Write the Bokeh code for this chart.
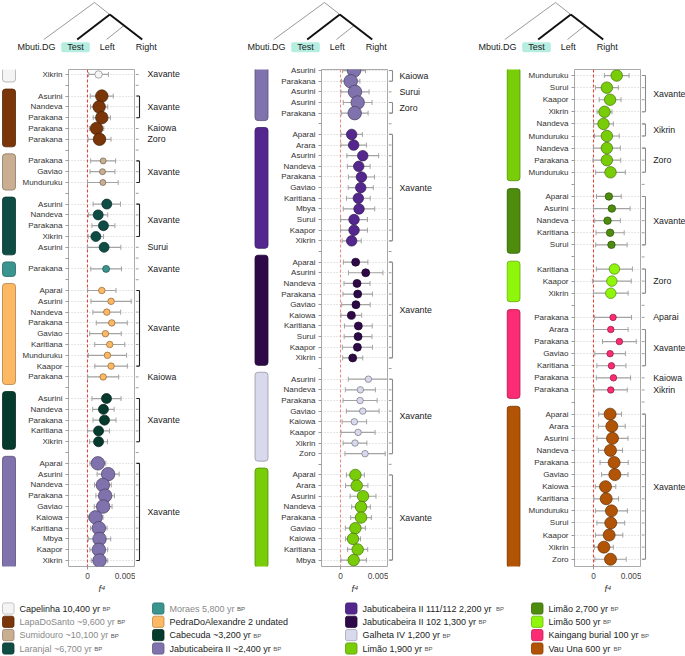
from bokeh.plotting import figure
from bokeh.layouts import row, column
from bokeh.models import Range1d, FixedTicker, ColumnDataSource, Whisker, TeeHead
from bokeh.embed import file_html
from bokeh.resources import INLINE
from bokeh.core.properties import value

FONT = "Liberation Sans"

# ---------------- groups / legend ----------------
group_names = ["Capelinha", "LapaDoSanto", "Sumidouro", "Laranjal", "Moraes", "PedraDoAlexandre",
               "Cabecuda", "JabuticabeiraII", "JabII_111_112", "JabII_102", "GalhetaIV",
               "Limao1900", "Limao2700", "Limao500", "Kaingang", "VauUna"]
group_colors = ["#f4f4f4", "#7a3608", "#c9ae92", "#0e4c44", "#3a958f", "#fdb863",
                "#063a2c", "#8072ac", "#54278f", "#2d0a47", "#d9d9ee",
                "#78cd08", "#4e8c0e", "#8ff50b", "#fb2c74", "#b25406"]
group_marker_px = [7.5, 12.5, 6, 10, 7, 6.5, 10, 13.5, 10.5, 8, 6.5, 11.5, 7.5, 10.5, 6.5, 12]
legend_names = ["Capelinha 10,400 yr", "LapaDoSanto ~9,600 yr", "Sumidouro ~10,100 yr",
                "Laranjal ~6,700 yr", "Moraes 5,800 yr", "PedraDoAlexandre 2 undated",
                "Cabecuda ~3,200 yr", "Jabuticabeira II ~2,400 yr",
                "Jabuticabeira II 111/112 2,200 yr", "Jabuticabeira II 102 1,300 yr",
                "Galheta IV 1,200 yr", "Limão 1,900 yr", "Limão 2,700 yr", "Limão 500 yr",
                "Kaingang burial 100 yr", "Vau Una 600 yr"]
legend_suffix = ["BP", "BP", "BP", "BP", "BP", "", "BP", "BP", "BP", "BP", "BP", "BP", "BP", "BP", "BP", "BP"]
legend_grey = [False, True, True, True, True, False, False, False,
               False, False, False, False, False, False, False, False]

# ---------------- column 1 ----------------
col1_group = (["Capelinha"] + ["LapaDoSanto"] * 5 + ["Sumidouro"] * 3 + ["Laranjal"] * 5 +
              ["Moraes"] + ["PedraDoAlexandre"] * 9 + ["Cabecuda"] * 5 + ["JabuticabeiraII"] * 10)
col1_left = ["Xikrin",
             "Asurini", "Nandeva", "Parakana", "Parakana", "Parakana",
             "Parakana", "Gaviao", "Munduruku",
             "Asurini", "Nandeva", "Parakana", "Xikrin", "Asurini",
             "Parakana",
             "Aparai", "Asurini", "Nandeva", "Parakana", "Gaviao", "Karitiana", "Munduruku", "Kaapor", "Parakana",
             "Asurini", "Nandeva", "Parakana", "Karitiana", "Xikrin",
             "Aparai", "Asurini", "Nandeva", "Parakana", "Gaviao", "Kaiowa", "Karitiana", "Mbya", "Kaapor", "Xikrin"]
col1_right = (["Xavante"] + ["Xavante"] * 3 + ["Kaiowa", "Zoro"] + ["Xavante"] * 3 +
              ["Xavante"] * 4 + ["Surui"] + ["Xavante"] + ["Xavante"] * 8 + ["Kaiowa"] +
              ["Xavante"] * 5 + ["Xavante"] * 10)
col1_f4 = [0.00114,
           0.00148, 0.00120, 0.00148, 0.00093, 0.00124,
           0.00162, 0.00155, 0.00159,
           0.00200, 0.00110, 0.00165, 0.00086, 0.00172,
           0.00193,
           0.00148, 0.00245, 0.00200, 0.00252, 0.00186, 0.00231, 0.00207, 0.00245, 0.00162,
           0.00197, 0.00165, 0.00176, 0.00114, 0.00114,
           0.00107, 0.00214, 0.00159, 0.00183, 0.00162, 0.00083, 0.00117, 0.00124, 0.00117, 0.00124]
col1_err = [0.00103,
            0.00120, 0.00090, 0.00090, 0.00075, 0.00120,
            0.00130, 0.00130, 0.00160,
            0.00143, 0.00100, 0.00120, 0.00080, 0.00175,
            0.00160,
            0.00148, 0.00210, 0.00145, 0.00162, 0.00165, 0.00157, 0.00200, 0.00170, 0.00162,
            0.00152, 0.00112, 0.00120, 0.00114, 0.00093,
            0.00083, 0.00115, 0.00088, 0.00097, 0.00093, 0.00078, 0.00086, 0.00117, 0.00093, 0.00086]

# ---------------- column 2 ----------------
col2_group = (["JabuticabeiraII"] * 5 + ["JabII_111_112"] * 11 + ["JabII_102"] * 10 +
              ["GalhetaIV"] * 8 + ["Limao1900"] * 9)
col2_left = ["Asurini", "Parakana", "Asurini", "Asurini", "Parakana",
             "Aparai", "Arara", "Asurini", "Nandeva", "Parakana", "Gaviao", "Karitiana", "Mbya", "Surui", "Kaapor", "Xikrin",
             "Aparai", "Asurini", "Nandeva", "Parakana", "Gaviao", "Kaiowa", "Karitiana", "Surui", "Kaapor", "Xikrin",
             "Asurini", "Nandeva", "Parakana", "Gaviao", "Kaiowa", "Kaapor", "Xikrin", "Zoro",
             "Aparai", "Arara", "Asurini", "Nandeva", "Parakana", "Gaviao", "Kaiowa", "Karitiana", "Mbya"]
col2_right = ["Kaiowa", "Kaiowa", "Surui", "Zoro", "Zoro"] + ["Xavante"] * 38
col2_f4 = [0.00140, 0.00105, 0.00150, 0.00178, 0.00147,
           0.00115, 0.00136, 0.00231, 0.00189, 0.00217, 0.00210, 0.00185, 0.00192, 0.00140, 0.00140, 0.00115,
           0.00157, 0.00262, 0.00171, 0.00178, 0.00160, 0.00112, 0.00185, 0.00182, 0.00175, 0.00126,
           0.00290, 0.00206, 0.00203, 0.00231, 0.00143, 0.00182, 0.00150, 0.00255,
           0.00154, 0.00168, 0.00234, 0.00213, 0.00213, 0.00154, 0.00129, 0.00178, 0.00136]
col2_err = [0.00120, 0.00096, 0.00147, 0.00150, 0.00140,
            0.00112, 0.00133, 0.00166, 0.00119, 0.00136, 0.00131, 0.00124, 0.00164, 0.00140, 0.00140, 0.00100,
            0.00128, 0.00180, 0.00136, 0.00154, 0.00149, 0.00108, 0.00145, 0.00145, 0.00157, 0.00105,
            0.00210, 0.00157, 0.00178, 0.00171, 0.00128, 0.00178, 0.00124, 0.00210,
            0.00094, 0.00117, 0.00135, 0.00098, 0.00108, 0.00105, 0.00079, 0.00105, 0.00133]

# ---------------- column 3 ----------------
col3_group = (["Limao1900"] * 9 + ["Limao2700"] * 5 + ["Limao500"] * 3 +
              ["Kaingang"] * 7 + ["VauUna"] * 13)
col3_left = ["Munduruku", "Surui", "Kaapor", "Xikrin", "Nandeva", "Munduruku", "Nandeva", "Parakana", "Munduruku",
             "Aparai", "Asurini", "Nandeva", "Karitiana", "Surui",
             "Karitiana", "Kaapor", "Xikrin",
             "Parakana", "Arara", "Parakana", "Gaviao", "Karitiana", "Parakana", "Parakana",
             "Aparai", "Arara", "Asurini", "Nandeva", "Parakana", "Gaviao", "Kaiowa", "Karitiana",
             "Munduruku", "Surui", "Kaapor", "Xikrin", "Zoro"]
col3_right = (["Xavante"] * 4 + ["Xikrin"] * 2 + ["Zoro"] * 3 + ["Xavante"] * 5 + ["Zoro"] * 3 +
              ["Aparai"] + ["Xavante"] * 4 + ["Kaiowa", "Xikrin"] + ["Xavante"] * 13)
col3_f4 = [0.00241, 0.00138, 0.00172, 0.00114, 0.00103, 0.00138, 0.00138, 0.00138, 0.00176,
           0.00159, 0.00190, 0.00145, 0.00172, 0.00186,
           0.00217, 0.00190, 0.00179,
           0.00203, 0.00179, 0.00269, 0.00172, 0.00186, 0.00207, 0.00179,
           0.00172, 0.00190, 0.00197, 0.00176, 0.00214, 0.00221, 0.00124, 0.00131,
           0.00186, 0.00179, 0.00162, 0.00107, 0.00176]
col3_err = [0.00129, 0.00120, 0.00114, 0.00078, 0.00103, 0.00129, 0.00141, 0.00145, 0.00155,
            0.00129, 0.00191, 0.00134, 0.00147, 0.00164,
            0.00188, 0.00203, 0.00181,
            0.00193, 0.00181, 0.00176, 0.00160, 0.00152, 0.00179, 0.00172,
            0.00119, 0.00140, 0.00162, 0.00126, 0.00147, 0.00138, 0.00107, 0.00129,
            0.00167, 0.00145, 0.00143, 0.00098, 0.00164]

f4_ticks = [0, 0.005]
f4_tick_labels = {0: "0", 0.005: "0.005"}

# ---------------- helpers ----------------
AW = {' ': 278, ',': 278, '.': 278, '/': 278, '~': 584,
      'A': 667, 'B': 667, 'C': 722, 'D': 722, 'E': 667, 'F': 611, 'G': 778, 'H': 722, 'I': 278,
      'J': 500, 'K': 667, 'L': 556, 'M': 833, 'N': 722, 'O': 778, 'P': 667, 'Q': 778, 'R': 722,
      'S': 667, 'T': 611, 'U': 722, 'V': 667, 'W': 944, 'X': 667, 'Y': 667, 'Z': 611,
      'a': 556, 'b': 556, 'c': 500, 'd': 556, 'e': 556, 'f': 278, 'g': 556, 'h': 556, 'i': 222,
      'j': 222, 'k': 500, 'l': 222, 'm': 833, 'n': 556, 'o': 556, 'p': 556, 'q': 556, 'r': 333,
      's': 500, 't': 278, 'u': 556, 'v': 500, 'w': 722, 'x': 500, 'y': 500, 'z': 500, 'ã': 556}


def text_w(s, size):
    return sum(AW.get(c, 556) for c in s) / 1000.0 * size


def darker(hexc, f=0.55):
    h = hexc.lstrip("#")
    r, g, b = (int(h[i:i + 2], 16) for i in (0, 2, 4))
    return "#%02x%02x%02x" % (int(r * f), int(g * f), int(b * f))


def plain(fig):
    fig.outline_line_color = None
    fig.grid.visible = False
    fig.background_fill_color = "white"
    fig.border_fill_color = "white"


color_of = dict(zip(group_names, group_colors))
size_of = dict(zip(group_names, group_marker_px))

FIG_H = 536
TOP_B = 9
BOT_B = 30
BAR_W = 18
LEFT_B = 50
FRAME_W = 67
MAIN_W = LEFT_B + FRAME_W


def build_column(groups, lefts, rights, f4, err, yr, br_w, bx, label_x, bracket_color, zero_color):
    rows = []
    r = -1
    prev = None
    for g in groups:
        r += 1
        if prev is not None and g != prev:
            r += 1
        rows.append(r)
        prev = g
    nrows = rows[-1] + 1
    y_range = Range1d(start=yr[1], end=yr[0])

    # ---- main panel ----
    p = figure(width=MAIN_W, height=FIG_H, x_range=Range1d(-0.002, 0.005), y_range=y_range,
               output_backend="svg", toolbar_location=None,
               min_border_left=LEFT_B, min_border_right=0, min_border_top=TOP_B, min_border_bottom=BOT_B)
    p.xgrid.visible = False
    p.ygrid.visible = False
    p.outline_line_color = "#a9a9a9"
    p.outline_line_width = 1
    p.background_fill_color = "white"
    p.border_fill_color = "white"

    labels = {i: "" for i in range(nrows)}
    for rr, lab in zip(rows, lefts):
        labels[rr] = lab
    ya = p.yaxis[0]
    ya.ticker = FixedTicker(ticks=list(range(nrows)))
    ya.major_label_overrides = labels
    ya.axis_line_color = None
    ya.major_tick_out = 3
    ya.major_tick_in = 0
    ya.major_tick_line_color = "#9a9a9a"
    ya.minor_tick_line_color = None
    ya.major_label_standoff = 3
    ya.major_label_text_font = FONT
    ya.major_label_text_font_size = "8px"
    ya.major_label_text_color = "#333333"

    xa = p.xaxis[0]
    xa.ticker = FixedTicker(ticks=f4_ticks)
    xa.major_label_overrides = f4_tick_labels
    xa.axis_line_color = None
    xa.major_tick_out = 3
    xa.major_tick_in = 0
    xa.major_tick_line_color = "#9a9a9a"
    xa.minor_tick_line_color = None
    xa.major_label_standoff = 3
    xa.major_label_text_font = FONT
    xa.major_label_text_font_size = "8.3px"
    xa.major_label_text_color = "#444444"
    xa.axis_label = "f⁴"
    xa.axis_label_text_font = FONT
    xa.axis_label_text_font_style = "italic"
    xa.axis_label_text_font_size = "9.5px"
    xa.axis_label_text_color = "#333333"
    xa.axis_label_standoff = 1

    hs = p.hspan(y=rows, line_color="#bdbdbd", line_dash="1 2", line_width=0.8)
    hs.level = "underlay"

    src = ColumnDataSource(dict(
        x=f4, row=rows,
        lo=[a - e for a, e in zip(f4, err)],
        hi=[a + e for a, e in zip(f4, err)],
        color=[color_of[g] for g in groups],
        edge=[darker(color_of[g]) for g in groups],
        size=[size_of[g] for g in groups],
    ))
    wc = "#a3a3a3"
    w = Whisker(source=src, base="row", lower="lo", upper="hi", dimension="width",
                line_color=wc, line_width=1.2, level="underlay",
                lower_head=TeeHead(size=5, line_color=wc, line_width=1),
                upper_head=TeeHead(size=5, line_color=wc, line_width=1))
    p.add_layout(w)
    vs = p.vspan(x=[0], line_color=zero_color, line_dash="3 2", line_width=1.1)
    vs.level = "underlay"
    p.scatter(x="x", y="row", size="size", fill_color="color", line_color="edge",
              line_width=0.7, source=src)

    # ---- group colour bars ----
    b = figure(width=BAR_W, height=FIG_H, x_range=Range1d(0, BAR_W), y_range=y_range,
               output_backend="svg", toolbar_location=None,
               x_axis_location=None, y_axis_location=None,
               min_border_left=0, min_border_right=0, min_border_top=TOP_B, min_border_bottom=BOT_B)
    plain(b)
    bt, bb, bc, be = [], [], [], []
    i = 0
    n = len(groups)
    while i < n:
        j = i
        while j + 1 < n and groups[j + 1] == groups[i]:
            j += 1
        bt.append(rows[i] - 0.65)
        bb.append(rows[j] + 0.7)
        bc.append(color_of[groups[i]])
        be.append(darker(color_of[groups[i]], 0.7))
        i = j + 1
    b.quad(left=bx, right=bx + 13, top=bt, bottom=bb, fill_color=bc, line_color=be,
           line_width=0.8, border_radius=3)

    # ---- right side: ticks, brackets and Right labels ----
    q = figure(width=br_w, height=FIG_H, x_range=Range1d(0, br_w), y_range=y_range,
               output_backend="svg", toolbar_location=None,
               x_axis_location=None, y_axis_location=None,
               min_border_left=0, min_border_right=0, min_border_top=TOP_B, min_border_bottom=BOT_B)
    plain(q)
    allr = list(range(nrows))
    q.segment(x0=0, x1=3, y0=allr, y1=allr, line_color="#9a9a9a", line_width=1)
    lab_y, lab_t = [], []
    vy0, vy1 = [], []
    i = 0
    while i < n:
        j = i
        while j + 1 < n and groups[j + 1] == groups[i] and rights[j + 1] == rights[i]:
            j += 1
        lab_y.append((rows[i] + rows[j]) / 2.0)
        lab_t.append(rights[i])
        if j > i:
            vy0.append(rows[i])
            vy1.append(rows[j])
        i = j + 1
    q.segment(x0=4, x1=4, y0=vy0, y1=vy1, line_color=bracket_color, line_width=1.1)
    q.segment(x0=1, x1=4, y0=vy0, y1=vy0, line_color=bracket_color, line_width=1.1)
    q.segment(x0=1, x1=4, y0=vy1, y1=vy1, line_color=bracket_color, line_width=1.1)
    q.text(x=label_x, y=lab_y, text=lab_t, text_font=value(FONT), text_font_size="8.8px",
           text_color="#222222", text_align="left", text_baseline="middle")
    return [b, p, q]


c1 = build_column(col1_group, col1_left, col1_right, col1_f4, col1_err, (-0.46, 45.55),
                  118, 2, 12, "#222222", "#e8413a")
c2 = build_column(col2_group, col2_left, col2_right, col2_f4, col2_err, (-0.1, 46.6),
                  118, 1.5, 11, "#8a8a8a", "#f08a84")
c3 = build_column(col3_group, col3_left, col3_right, col3_f4, col3_err, (-0.5, 40.6),
                  44, 0.5, 11.7, "#8a8a8a", "#e8413a")

# ---------------- tree header ----------------
tree = figure(width=685, height=60, x_range=Range1d(0, 685), y_range=Range1d(60, 0),
              output_backend="svg", toolbar_location=None,
              x_axis_location=None, y_axis_location=None,
              min_border_left=0, min_border_right=0, min_border_top=0, min_border_bottom=0)
plain(tree)
tree_offsets = [0, 230, 461]
tree_labels = ["Mbuti.DG", "Test", "Left", "Right"]
label_pos = [36, 75, 106.7, 145.7]
for ox in tree_offsets:
    tree.quad(left=60.7 + ox, right=89.3 + ox, top=41.7, bottom=51.7, fill_color="#b5eee1",
              line_color=None, border_radius=2)
    tree.segment(x0=[94 + ox, 94 + ox, 123.6 + ox], y0=[2, 2, 25],
                 x1=[43.3 + ox, 109.3 + ox, 106 + ox], y1=[39, 14, 39],
                 line_color="#9a9a9a", line_width=1)
    tree.segment(x0=[109.3 + ox, 109.3 + ox], y0=[14, 14], x1=[76.7 + ox, 141.7 + ox], y1=[39, 39],
                 line_color="#111111", line_width=2)
    tree.text(x=[v + ox for v in label_pos], y=[46.7] * 4, text=tree_labels,
              text_font=value(FONT), text_font_size="9px", text_color="#222222",
              text_align="center", text_baseline="middle")

# ---------------- legend ----------------
leg = figure(width=685, height=60, x_range=Range1d(0, 685), y_range=Range1d(656, 596),
             output_backend="svg", toolbar_location=None,
             x_axis_location=None, y_axis_location=None,
             min_border_left=0, min_border_right=0, min_border_top=0, min_border_bottom=0)
plain(leg)
col_x = [2, 152, 345, 531]
row_y = [608, 621.3, 634.6, 648]
sx, sy, tx, bpx, bpy, bpt, tcol = [], [], [], [], [], [], []
for k in range(len(group_names)):
    cx = col_x[k // 4]
    cy = row_y[k % 4]
    sx.append(cx)
    sy.append(cy)
    tx.append(cx + 17)
    tcol.append("#8a8a8a" if legend_grey[k] else "#222222")
    if legend_suffix[k]:
        bpx.append(cx + 17 + text_w(legend_names[k] + " ", 9))
        bpy.append(cy + 0.4)
        bpt.append(legend_suffix[k])
leg.quad(left=sx, right=[v + 11.5 for v in sx], top=[v - 5.6 for v in sy], bottom=[v + 5.6 for v in sy],
         fill_color=group_colors, line_color=[darker(c, 0.75) for c in group_colors],
         line_width=0.8, border_radius=2)
leg.text(x=tx, y=sy, text=legend_names, text_font=value(FONT), text_font_size="9px",
         text_color=tcol, text_align="left", text_baseline="middle")
leg.text(x=bpx, y=bpy, text=bpt, text_font=value(FONT), text_font_size="6px",
         text_color="#555555", text_align="left", text_baseline="middle")

layout = column(tree, row(*c1, *c2, *c3), leg)
open("out.html", "w").write(file_html(layout, INLINE))
